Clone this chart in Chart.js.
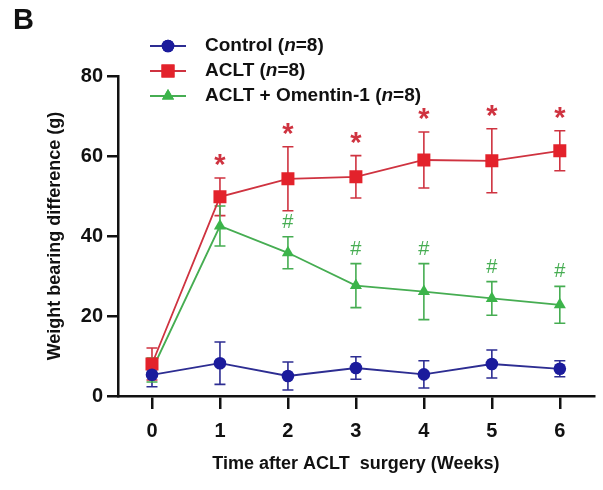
<!DOCTYPE html>
<html>
<head>
<meta charset="utf-8">
<script src="https://cdn.jsdelivr.net/npm/chart.js@4/dist/chart.umd.min.js"></script>
<style>
  html, body { margin: 0; padding: 0; background: #fff; }
  #wrap { position: relative; width: 603px; height: 490px; }
</style>
</head>
<body>
<div id="wrap"><canvas id="c" width="603" height="490"></canvas></div>
<script>
// ---- data ----
const weeks = ['0', '1', '2', '3', '4', '5', '6'];
const controlMean = [5.3, 8.2, 5.0, 7.0, 5.4, 8.0, 6.8];
const controlErr  = [3.0, 5.3, 3.5, 2.8, 3.4, 3.5, 2.0];
const acltMean    = [8.0, 49.8, 54.3, 54.8, 59.0, 58.8, 61.3];
const acltErr     = [4.0, 4.7, 8.0, 5.3, 7.0, 8.0, 5.0];
const omenMean    = [6.5, 42.5, 35.8, 27.6, 26.1, 24.4, 22.8];
const omenErr     = [3.0, 5.0, 4.0, 5.5, 7.0, 4.2, 4.6];
const starWeeks   = ['1', '2', '3', '4', '5', '6'];
const hashWeeks   = ['2', '3', '4', '5', '6'];
const yTicks      = [0, 20, 40, 60, 80];
const legendNames = [['Control (', 'n', '=8)'], ['ACLT (', 'n', '=8)'], ['ACLT + Omentin-1 (', 'n', '=8)']];

const BLUE = '#1b1b9c', RED = '#e3222b', GREEN = '#3cb44a';
const BLUE_L = '#2d2d92', RED_L = '#cf3340', GREEN_L = '#46ad52';
const FONT = '"Liberation Sans", Arial, sans-serif';

const series = [
  { label: 'Control (n=8)', mean: controlMean, err: controlErr, color: BLUE, line: BLUE_L, style: 'circle', r: 6.3 },
  { label: 'ACLT (n=8)', mean: acltMean, err: acltErr, color: RED, line: RED_L, style: 'rect', r: 9.2 },
  { label: 'ACLT + Omentin-1 (n=8)', mean: omenMean, err: omenErr, color: GREEN, line: GREEN_L, style: 'triangle', r: 7 }
];

const errorBars = {
  id: 'errorBars',
  beforeDatasetsDraw(chart) {
    const ctx = chart.ctx, y = chart.scales.y;
    series.forEach((s, i) => {
      const meta = chart.getDatasetMeta(i);
      ctx.save();
      ctx.strokeStyle = s.line;
      ctx.lineWidth = 1.6;
      meta.data.forEach((pt, j) => {
        const x = pt.x;
        const yt = y.getPixelForValue(s.mean[j] + s.err[j]);
        const yb = y.getPixelForValue(s.mean[j] - s.err[j]);
        ctx.beginPath();
        ctx.moveTo(x, yt); ctx.lineTo(x, yb);
        ctx.moveTo(x - 5.5, yt); ctx.lineTo(x + 5.5, yt);
        ctx.moveTo(x - 5.5, yb); ctx.lineTo(x + 5.5, yb);
        ctx.stroke();
      });
      ctx.restore();
    });
  }
};

const extras = {
  id: 'extras',
  afterDraw(chart) {
    const ctx = chart.ctx, xs = chart.scales.x, y = chart.scales.y;
    ctx.save();
    // panel letter
    ctx.fillStyle = '#111';
    ctx.font = 'bold 29px ' + FONT;
    ctx.textAlign = 'left';
    ctx.textBaseline = 'alphabetic';
    ctx.fillText('B', 13, 29);
    // significance marks
    ctx.textAlign = 'center';
    ctx.fillStyle = RED_L;
    ctx.font = 'bold 29px ' + FONT;
    starWeeks.forEach(w => {
      const j = weeks.indexOf(w);
      const x = xs.getPixelForValue(j);
      const top = y.getPixelForValue(acltMean[j] + acltErr[j]);
      ctx.fillText('*', x, top - 18.5 + 14.5);
    });
    ctx.fillStyle = GREEN_L;
    ctx.font = '20px ' + FONT;
    hashWeeks.forEach(w => {
      const j = weeks.indexOf(w);
      const x = xs.getPixelForValue(j);
      const top = y.getPixelForValue(omenMean[j] + omenErr[j]);
      ctx.fillText('#', x, top - 16 + 7);
    });
    // legend
    const rows = [46, 71, 96];
    series.forEach((s, i) => {
      const ry = rows[i];
      ctx.strokeStyle = s.line;
      ctx.lineWidth = 1.8;
      ctx.beginPath(); ctx.moveTo(150, ry); ctx.lineTo(186, ry); ctx.stroke();
      ctx.fillStyle = s.color;
      Chart.helpers.drawPoint(ctx, { pointStyle: s.style, radius: s.r, borderWidth: 0 }, 168, ry);
      ctx.fill();
      let tx = 205;
      ctx.fillStyle = '#111';
      ctx.textAlign = 'left';
      ctx.textBaseline = 'middle';
      legendNames[i].forEach((part, k) => {
        ctx.font = (k === 1 ? 'italic bold 19px ' : 'bold 19px ') + FONT;
        ctx.fillText(part, tx, ry);
        tx += ctx.measureText(part).width;
      });
    });
    ctx.restore();
  }
};

new Chart(document.getElementById('c'), {
  type: 'line',
  data: {
    labels: weeks,
    datasets: series.map(s => ({
      label: s.label,
      data: s.mean,
      borderColor: s.line,
      backgroundColor: s.color,
      pointBackgroundColor: s.color,
      pointBorderColor: s.color,
      pointBorderWidth: 0,
      pointStyle: s.style,
      pointRadius: s.r,
      borderWidth: 1.8,
      tension: 0
    }))
  },
  options: {
    responsive: false,
    animation: false,
    events: [],
    layout: { padding: { left: 0, top: 76, right: 3, bottom: 0 } },
    plugins: { legend: { display: false }, tooltip: { enabled: false } },
    scales: {
      x: {
        type: 'category',
        offset: true,
        grid: { display: true, offset: false, drawOnChartArea: false, drawTicks: true, tickLength: 13, color: '#111', lineWidth: 2.5 },
        border: { display: true, color: '#111', width: 2.5 },
        ticks: { color: '#111', font: { family: FONT, size: 20, weight: 'bold' }, padding: 10, maxRotation: 0 },
        title: { display: true, text: 'Time after ACLT  surgery (Weeks)', color: '#111', font: { family: FONT, size: 18, weight: 'bold' }, padding: { top: 0, bottom: 15 } },
        afterFit(s) { s.height = 94; }
      },
      y: {
        min: 0, max: 80,
        afterBuildTicks(s) { s.ticks = yTicks.map(v => ({ value: v })); },
        grid: { display: true, drawOnChartArea: false, drawTicks: true, tickLength: 11, color: '#111', lineWidth: 2.5 },
        border: { display: true, color: '#111', width: 2.5 },
        ticks: { color: '#111', font: { family: FONT, size: 20, weight: 'bold' }, padding: 4 },
        title: { display: true, text: 'Weight bearing difference (g)', color: '#111', font: { family: FONT, size: 18, weight: 'bold' }, padding: { top: 44, bottom: 0 } },
        afterFit(s) { s.width = 118; }
      }
    }
  },
  plugins: [errorBars, extras]
});
</script>
</body>
</html>
